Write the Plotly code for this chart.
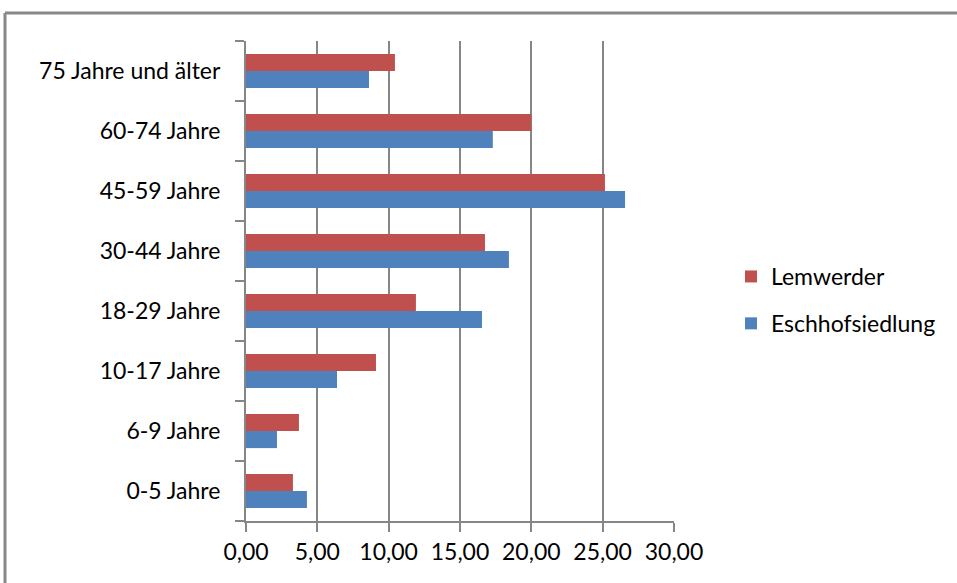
import plotly.graph_objects as go

categories = ["0-5 Jahre", "6-9 Jahre", "10-17 Jahre", "18-29 Jahre",
              "30-44 Jahre", "45-59 Jahre", "60-74 Jahre", "75 Jahre und älter"]
lemwerder = [3.29, 3.71, 9.11, 11.91, 16.75, 25.16, 20.0, 10.44]
eschhof = [4.27, 2.17, 6.38, 16.54, 18.43, 26.57, 17.3, 8.62]
x_ticks = [0, 5, 10, 15, 20, 25, 30]

FONT = "Lato"
GRID = "#868686"

fig = go.Figure()
fig.add_trace(go.Bar(y=categories, x=eschhof, name="Eschhofsiedlung", orientation="h",
                     marker=dict(color="#4F81BD", line=dict(width=0)),
                     legendgroup="e", legendrank=2))
fig.add_trace(go.Bar(y=categories, x=lemwerder, name="Lemwerder", orientation="h",
                     marker=dict(color="#C0504D", line=dict(width=0)),
                     legendgroup="l", legendrank=1))

L, R, T, B = 246, 674, 41, 521
W, H = 957, 583
pw, ph = R - L, B - T

def px(xp):
    return (xp - L) / pw

def py(yp):
    return (B - yp) / ph

fig.update_layout(
    width=W, height=H,
    margin=dict(l=L, r=W - R, t=T, b=H - B),
    paper_bgcolor="white", plot_bgcolor="white",
    barmode="group", bargap=0.43, bargroupgap=0,
    separators=",.",
    font=dict(family=FONT, size=23, color="#000000"),
    showlegend=True,
    legend=dict(x=px(731), y=py(300), xanchor="left", yanchor="middle",
                traceorder="grouped", tracegroupgap=14,
                font=dict(family=FONT, size=23), bgcolor="rgba(0,0,0,0)"),
    xaxis=dict(range=[0, 30], tickvals=x_ticks, tickformat=".2f",
               showgrid=True, gridcolor=GRID, gridwidth=2,
               showline=True, linecolor=GRID, linewidth=2,
               ticks="outside", ticklen=9, tickcolor=GRID, tickwidth=2,
               zeroline=False, fixedrange=True),
    yaxis=dict(type="category", categoryorder="array", categoryarray=categories,
               showgrid=False, showline=True, linecolor=GRID, linewidth=2,
               ticks="outside", ticklen=9, tickcolor=GRID, tickwidth=2,
               tickson="boundaries", ticklabelstandoff=19, zeroline=False),
    shapes=[
        dict(type="line", xref="paper", yref="paper", x0=px(5), x1=px(5),
             y0=py(13), y1=py(600), line=dict(color="#888888", width=3)),
        dict(type="line", xref="paper", yref="paper", x0=px(5), x1=px(980),
             y0=py(13), y1=py(13), line=dict(color="#888888", width=3)),
    ],
)

fig.write_html("out.html", config={"displayModeBar": False},
               post_script="document.body.style.margin='0';")
